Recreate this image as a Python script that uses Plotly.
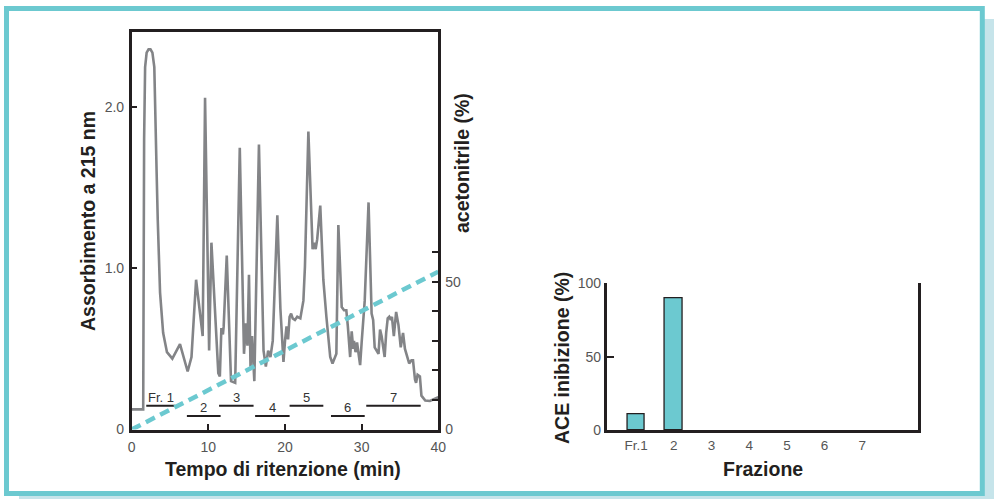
import plotly.graph_objects as go

W, H = 994, 499

# ---------------- data ----------------
time_min = [0, 1.5, 1.62, 1.75, 1.95, 2.2, 2.45, 2.7, 2.95, 3.1, 3.25, 3.4, 3.7, 4.1, 4.6, 5.3,
            6.3, 7.3, 7.8, 8.4, 9.26, 9.57, 10.1, 10.4, 11.3, 11.5, 11.7, 11.9, 12.0, 12.4,
            12.96, 13.5, 14.1, 14.65, 14.9, 15.1, 15.3, 15.5, 15.7, 16.0, 16.6, 17.2, 17.5,
            17.8, 18.1, 18.4, 19.0, 19.4, 19.8, 20.0, 20.2, 20.4, 20.6, 20.8, 21.0, 21.3,
            21.6, 22.0, 22.4, 22.6, 23.05, 23.6, 23.8, 24.0, 24.2, 24.6, 25.0, 25.4, 25.9,
            26.2, 26.5, 26.7, 26.96, 27.4, 27.7, 28.0, 28.2, 28.5, 28.7, 28.9, 29.0, 29.2,
            29.4, 29.8, 30.0, 30.4, 30.9, 31.3, 31.5, 31.7, 32.2, 32.4, 32.6, 33.0, 33.2,
            33.4, 33.6, 33.8, 33.95, 34.2, 34.5, 34.8, 35.1, 35.4, 35.65, 35.96, 36.2, 36.5,
            36.7, 36.96, 37.1, 37.3, 37.6, 37.8, 38.3, 38.9, 39.6, 40]
absorbance = [0.125, 0.125, 1.8, 2.25, 2.34, 2.36, 2.36, 2.34, 2.25, 2.0, 1.6, 1.3, 0.85, 0.6,
              0.48, 0.44, 0.53, 0.36, 0.45, 0.93, 0.58, 2.06, 0.49, 1.16, 0.35, 0.33, 0.63,
              0.59, 0.64, 1.08, 0.30, 0.29, 1.75, 0.47, 0.66, 0.52, 0.96, 0.39, 0.58, 0.30,
              1.77, 0.49, 0.39, 0.49, 0.45, 0.55, 1.33, 0.75, 0.42, 0.55, 0.64, 0.56, 0.70,
              0.72, 0.69, 0.68, 0.70, 0.69, 0.80, 1.01, 1.85, 1.12, 1.16, 1.12, 1.18, 1.39,
              0.93, 0.70, 0.45, 0.41, 0.44, 0.47, 1.27, 0.76, 0.74, 0.74, 0.64, 0.45, 0.61,
              0.50, 0.55, 0.48, 0.54, 0.40, 0.54, 0.80, 1.41, 0.72, 0.68, 0.51, 0.47, 0.62,
              0.58, 0.45, 0.60, 0.69, 0.70, 0.68, 0.70, 0.58, 0.73, 0.65, 0.51, 0.60, 0.50,
              0.45, 0.41, 0.43, 0.43, 0.31, 0.29, 0.34, 0.33, 0.21, 0.18, 0.177, 0.19, 0.20]
assert len(time_min) == len(absorbance)

gradient_time = [0, 40]
acetonitrile_pct = [0, 53.4]

fraction_labels = ["Fr. 1", "2", "3", "4", "5", "6", "7"]
fraction_start = [1.9, 7.2, 11.4, 16.1, 20.6, 26.0, 30.6]
fraction_end = [5.7, 11.6, 15.9, 20.6, 25.0, 30.4, 37.7]

bar_categories = ["Fr.1", "2", "3", "4", "5", "6", "7"]
ace_inhibition = [11, 90, 0, 0, 0, 0, 0]

left_xticks = [0, 10, 20, 30, 40]
left_yticks = [0, 1.0, 2.0]
left_yticktext = ["0", "1.0", "2.0"]
right_yticks = [0, 10, 20, 30, 40, 50, 60]
right_yticktext = ["0", "", "", "", "", "50", ""]
bar_yticks = [0, 50, 100]

# ---------------- styles ----------------
TEAL = "#6CC9D0"
GRAY = "#838487"
AX = "#231F20"
TICKC = "#555555"
FONT = "Liberation Sans"

def px_x(p):
    return p / W

def px_y(p):
    return 1 - p / H

fig = go.Figure()

fig.add_trace(go.Scatter(x=time_min, y=absorbance, mode="lines",
                         line=dict(color=GRAY, width=2.6), xaxis="x", yaxis="y",
                         showlegend=False, hoverinfo="skip"))
fig.add_trace(go.Scatter(x=gradient_time, y=acetonitrile_pct, mode="lines",
                         line=dict(color=TEAL, width=4.5, dash="10px,6px"),
                         xaxis="x", yaxis="y2", showlegend=False, hoverinfo="skip"))

# fraction collection segments
upper_level, lower_level = 0.148, 0.084
for i, (lab, s, e) in enumerate(zip(fraction_labels, fraction_start, fraction_end)):
    lev = upper_level if i % 2 == 0 else lower_level
    fig.add_trace(go.Scatter(x=[s, e], y=[lev, lev], mode="lines",
                             line=dict(color=AX, width=2), xaxis="x", yaxis="y",
                             showlegend=False, hoverinfo="skip"))
    fig.add_annotation(x=(s + e) / 2, y=lev, xref="x", yref="y", text=lab,
                       showarrow=False, yanchor="bottom", yshift=-1,
                       font=dict(family=FONT, size=13, color="#333"))

bar_line_widths = [1.3 if v > 0 else 0 for v in ace_inhibition]
fig.add_trace(go.Bar(x=list(range(1, 8)), y=ace_inhibition, width=0.46,
                     marker=dict(color=TEAL, line=dict(color=AX, width=bar_line_widths)),
                     xaxis="x3", yaxis="y3", showlegend=False, hoverinfo="skip"))

tickfont = dict(family=FONT, size=14, color=TICKC)

fig.update_layout(
    width=W, height=H,
    margin=dict(l=0, r=0, t=0, b=0, pad=0, autoexpand=False),
    paper_bgcolor="white", plot_bgcolor="rgba(0,0,0,0)",
    showlegend=False,
    xaxis=dict(domain=[px_x(131.7), px_x(438.3)], range=[0, 40], anchor="y",
               tickvals=left_xticks, ticks="inside", ticklen=6, tickwidth=2, tickcolor=AX,
               showline=True, linecolor=AX, linewidth=2.5, mirror=True,
               showgrid=False, zeroline=False, tickfont=tickfont,
               ticklabelstandoff=3, automargin=False),
    yaxis=dict(domain=[px_y(429.5), px_y(31.7)], range=[0, 2.47], anchor="x",
               tickvals=left_yticks, ticktext=left_yticktext, ticks="inside", ticklen=6,
               tickwidth=2, tickcolor=AX, showline=True, linecolor=AX, linewidth=2.5,
               mirror=True, showgrid=False, zeroline=False, tickfont=tickfont,
               ticklabelstandoff=2, automargin=False),
    yaxis2=dict(overlaying="y", side="right", anchor="x", range=[0, 134.6],
                tickvals=right_yticks, ticktext=right_yticktext, ticks="inside", ticklen=6,
                tickwidth=2, tickcolor=AX, showline=False, showgrid=False,
                zeroline=False, tickfont=tickfont, ticklabelstandoff=6, automargin=False),
    xaxis3=dict(domain=[px_x(606.7), px_x(917.7)], range=[0.22, 8.47], anchor="y3",
                tickvals=list(range(1, 8)), ticktext=bar_categories, ticks="",
                showline=True, linecolor=AX, linewidth=2.5, showgrid=False,
                zeroline=False, tickfont=dict(family=FONT, size=13.5, color=TICKC),
                ticklabelstandoff=1, automargin=False),
    yaxis3=dict(domain=[px_y(430), px_y(283.3)], range=[0, 100], anchor="x3",
                tickvals=bar_yticks, ticks="inside", ticklen=8, tickwidth=2, tickcolor=AX,
                showline=True, linecolor=AX, linewidth=2.5, mirror=True, showgrid=False,
                zeroline=False, tickfont=tickfont, automargin=False),
    bargap=0,
)

# frame with shadow
fig.add_shape(type="rect", xref="paper", yref="paper", layer="below",
              x0=px_x(19), x1=1, y0=0, y1=px_y(19),
              fillcolor="#C6E4EA", line=dict(width=0))
fig.add_shape(type="rect", xref="paper", yref="paper", layer="below",
              x0=px_x(6.5), x1=px_x(982.3), y0=px_y(493.5), y1=px_y(8.5),
              fillcolor="white", line=dict(color=TEAL, width=5))

titlefont = dict(family=FONT, size=19.5, color=AX)
def title(text, x, y, angle=0):
    fig.add_annotation(x=px_x(x), y=px_y(y), xref="paper", yref="paper", text="<b>%s</b>" % text,
                       showarrow=False, textangle=angle, xanchor="center", yanchor="middle",
                       font=titlefont)

title("Tempo di ritenzione (min)", 283, 469)
title("Frazione", 763, 469)
title("Assorbimento a 215 nm", 88, 221, -90)
title("acetonitrile (%)", 462, 163, -90)
title("ACE inibizione (%)", 562, 358, -90)

fig.write_html("out.html")
